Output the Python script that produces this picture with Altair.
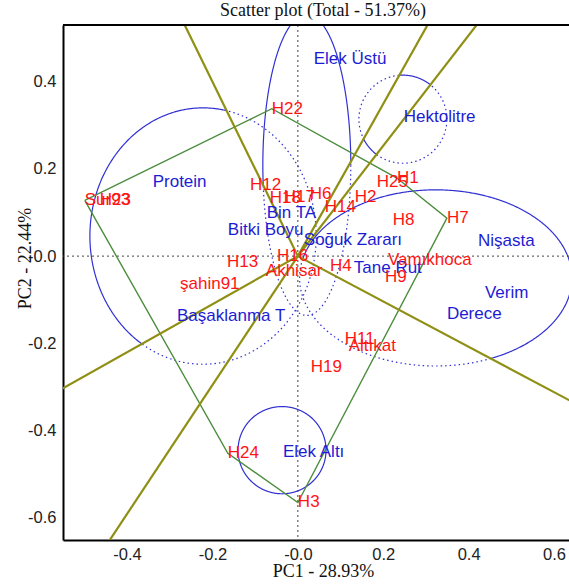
import altair as alt
import pandas as pd
import numpy as np

# ---------------- data ----------------
geno_names = ["H22", "Sur93", "H23", "H12", "H18", "H17", "H6", "H14", "H2", "H25",
              "H1", "H8", "H7", "Vamıkhoca", "H9", "H4", "H16", "Akhisar", "H13",
              "şahin91", "H11", "Altıkat", "H19", "H24", "H3"]
geno_pc1 = [-0.061, -0.499, -0.464, -0.112, -0.066, -0.033, 0.028, 0.063, 0.133, 0.185,
            0.232, 0.222, 0.349, 0.211, 0.204, 0.075, -0.049, -0.075, -0.166,
            -0.276, 0.110, 0.119, 0.030, -0.164, 0.0]
geno_pc2 = [0.338, 0.128, 0.128, 0.163, 0.133, 0.135, 0.142, 0.112, 0.135, 0.170,
            0.179, 0.083, 0.087, -0.009, -0.048, -0.023, 0.0, -0.034, -0.014,
            -0.064, -0.190, -0.206, -0.255, -0.452, -0.565]

trait_names = ["Elek Üstü", "Hektolitre", "Protein", "Bin TA", "Bitki Boyu", "Soğuk Zararı",
               "Nişasta", "Tane Rut", "Verim", "Derece", "Başaklanma T", "Elek Altı"]
trait_pc1 = [0.037, 0.248, -0.340, -0.073, -0.164, 0.014, 0.422, 0.131, 0.438, 0.349, -0.283, -0.035]
trait_pc2 = [0.452, 0.319, 0.170, 0.099, 0.060, 0.037, 0.034, -0.028, -0.085, -0.133, -0.138, -0.450]

# convex hull (polygon) of the vertex genotypes
poly_order = ["Sur93", "H22", "H1", "H7", "H3", "H24", "Sur93"]

# rays from the origin (end points, beyond the frame; clipped)
ray_x0 = [0.0, 0.0, 0.0, 0.0, 0.0, 0.0]
ray_y0 = [0.0, 0.0, 0.0, 0.0, 0.0, 0.0]
ray_x1 = [-0.281, 0.322, 0.444, 0.673, -0.458, -0.572]
ray_y1 = [0.562, 0.562, 0.562, -0.350, -0.677, -0.315]

# group ellipses (centre, radii) and the two rays bounding their sector
ell_names = ["Protein", "Elek Üstü", "Hektolitre", "Nişasta", "Elek Altı"]
ell_cx = [-0.222, 0.021, 0.246, 0.323, -0.037]
ell_cy = [0.046, 0.209, 0.314, -0.050, -0.445]
ell_rx = [0.265, 0.103, 0.103, 0.319, 0.103]
ell_ry = [0.294, 0.345, 0.101, 0.202, 0.100]
ell_from = [0, 1, 2, 3, 4]
ell_to = [5, 0, 1, 2, 3]

x_ticks = [-0.4, -0.2, 0.0, 0.2, 0.4, 0.6]
y_ticks = [-0.6, -0.4, -0.2, 0.0, 0.2, 0.4]
zero_line = [0.0]

X_DOMAIN = [-0.55, 0.635]
Y_DOMAIN = [-0.651, 0.53]
W, H = 506, 515

RED = "#ff1414"
BLUE = "#1c1cd4"
ELL = "#3030d4"
OLIVE = "#8f8f14"
GREEN = "#4b8d3d"
LABEL_SIZE = 17

# ---------------- tables ----------------
geno = pd.DataFrame({"name": geno_names, "x": geno_pc1, "y": geno_pc2})
trait = pd.DataFrame({"name": trait_names, "x": trait_pc1, "y": trait_pc2})
gidx = {n: i for i, n in enumerate(geno_names)}
poly = pd.DataFrame({
    "o": list(range(len(poly_order))),
    "x": [geno_pc1[gidx[n]] for n in poly_order],
    "y": [geno_pc2[gidx[n]] for n in poly_order],
})
ray_rows = []
for i in range(len(ray_x1)):
    ray_rows.append({"r": i, "o": 0, "x": ray_x0[i], "y": ray_y0[i]})
    ray_rows.append({"r": i, "o": 1, "x": ray_x1[i], "y": ray_y1[i]})
rays = pd.DataFrame(ray_rows)

ray_ang = np.degrees(np.arctan2(np.array(ray_y1), np.array(ray_x1))) % 360
ell_rows = []
for k in range(len(ell_names)):
    t = np.linspace(0, 2 * np.pi, 721)
    xs = ell_cx[k] + ell_rx[k] * np.cos(t)
    ys = ell_cy[k] + ell_ry[k] * np.sin(t)
    ang = np.degrees(np.arctan2(ys, xs)) % 360
    a0 = ray_ang[ell_from[k]]
    a1 = ray_ang[ell_to[k]]
    inside = ((ang - a0) % 360) <= ((a1 - a0) % 360)
    n = len(t)
    seg = 0
    start = 0
    for i in range(1, n + 1):
        if i == n or inside[i] != inside[start]:
            end = min(i, n - 1)
            for j in range(start, end + 1):
                ell_rows.append({"seg": f"{k}-{seg}", "solid": bool(inside[start]),
                                 "x": float(xs[j]), "y": float(ys[j]), "o": j})
            seg += 1
            start = i
ells = pd.DataFrame(ell_rows)
zeros = pd.DataFrame({"v": zero_line})

# ---------------- encodings ----------------
lab = "(datum.value <= 0 ? '-' : '') + format(abs(datum.value), '.1f')"
xscale = alt.Scale(domain=X_DOMAIN, nice=False, zero=False)
yscale = alt.Scale(domain=Y_DOMAIN, nice=False, zero=False)
xaxis = alt.Axis(values=x_ticks, labelExpr=lab, grid=False, ticks=False,
                 domainColor="black", domainWidth=2, labelFont="Liberation Sans",
                 labelFontSize=16.5, labelColor="#222222", labelPadding=6,
                 title="PC1 - 28.93%", titleFont="Liberation Serif", titleFontSize=18,
                 titleFontWeight="normal", titleColor="#111111", titleX=260, titleY=31,
                 titleAlign="center", titleBaseline="middle")
yaxis = alt.Axis(values=y_ticks, labelExpr=lab, grid=False, ticks=False,
                 domainColor="black", domainWidth=2, labelFont="Liberation Sans",
                 labelFontSize=16.5, labelColor="#222222", labelPadding=7,
                 title="PC2 - 22.44%", titleFont="Liberation Serif", titleFontSize=18,
                 titleFontWeight="normal", titleColor="#111111", titleX=-38, titleY=233,
                 titleAlign="center", titleBaseline="middle", titleAngle=270)


def X(f="x"):
    return alt.X(f, type="quantitative", scale=xscale, axis=xaxis)


def Y(f="y"):
    return alt.Y(f, type="quantitative", scale=yscale, axis=yaxis)


ell_solid = alt.Chart(ells).transform_filter("datum.solid").mark_line(
    color=ELL, strokeWidth=1.2, clip=True).encode(
    x=X(), y=Y(), detail="seg:N", order="o:Q")
ell_dot = alt.Chart(ells).transform_filter("!datum.solid").mark_line(
    color=ELL, strokeWidth=1.2, strokeDash=[1.5, 3], clip=True).encode(
    x=X(), y=Y(), detail="seg:N", order="o:Q")

zero_v = alt.Chart(zeros).mark_rule(color="#444444", strokeWidth=1, strokeDash=[2, 3]).encode(x=X("v"))
zero_h = alt.Chart(zeros).mark_rule(color="#444444", strokeWidth=1, strokeDash=[2, 3]).encode(y=Y("v"))

poly_line = alt.Chart(poly).mark_line(color=GREEN, strokeWidth=1.4, clip=True).encode(
    x=X(), y=Y(), order="o:Q")
ray_lines = alt.Chart(rays).mark_line(color=OLIVE, strokeWidth=2.2, clip=True).encode(
    x=X(), y=Y(), detail="r:N", order="o:Q")

geno_txt = alt.Chart(geno).mark_text(align="left", baseline="middle", font="Liberation Sans",
                                     fontSize=LABEL_SIZE, color=RED).encode(x=X(), y=Y(), text="name:N")
trait_txt = alt.Chart(trait).mark_text(align="left", baseline="middle", font="Liberation Sans",
                                       fontSize=LABEL_SIZE, color=BLUE).encode(x=X(), y=Y(), text="name:N")

top_frame = alt.Chart(zeros).mark_rule(color="black", strokeWidth=2).encode(
    x=alt.value(0), x2=alt.value(W), y=alt.value(0))

chart = alt.layer(ell_dot, ell_solid, zero_v, zero_h, poly_line, ray_lines,
                  trait_txt, geno_txt, top_frame).properties(
    width=W, height=H,
    padding={"left": 63, "top": 25, "right": 0, "bottom": 44},
    autosize=alt.AutoSizeParams(type="none"),
    title=alt.TitleParams("Scatter plot (Total - 51.37%)", font="Liberation Serif",
                          fontSize=18, fontWeight="normal", color="#111111",
                          anchor="middle", offset=4, dx=7),
    background="white",
).configure_view(stroke=None)

chart.save("out.html", embed_options={"renderer": "svg", "actions": False})
